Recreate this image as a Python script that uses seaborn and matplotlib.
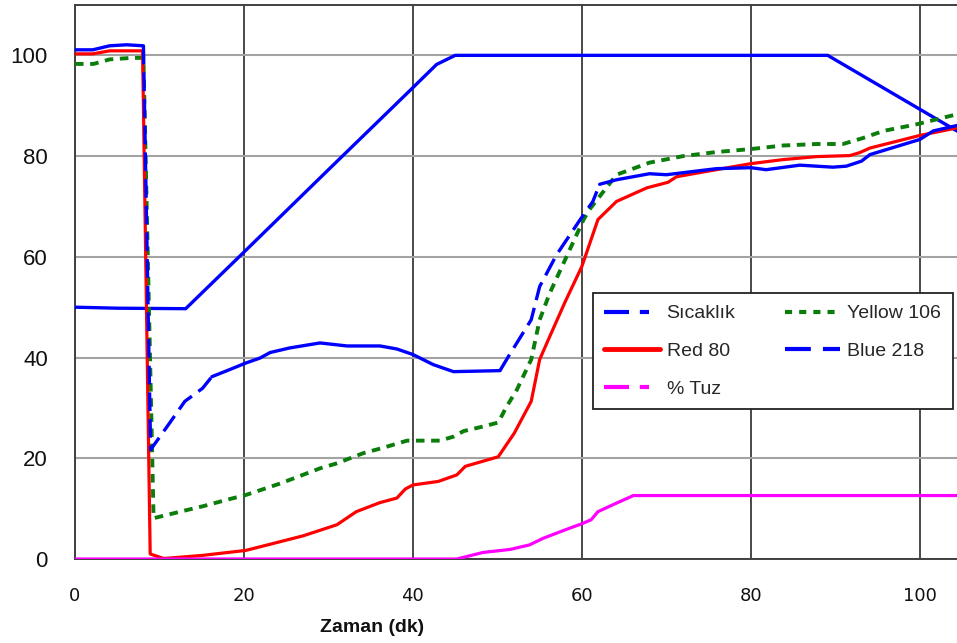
import numpy as np
import pandas as pd
import matplotlib
matplotlib.use("Agg")
import matplotlib.pyplot as plt
import seaborn as sns
from matplotlib.lines import Line2D

# ---------------- data ----------------
sicaklik_x = [0, 5, 13.1, 20.1, 30, 40, 42.8, 45, 89.1, 100, 105]
sicaklik_y = [50, 49.8, 49.7, 61.1, 77.3, 93.6, 98.2, 100, 100, 89.3, 84.4]

yellow106_x = [0, 2.2, 4.1, 6.7, 8.1, 9.3, 13.2, 15.2, 18.3, 20.2, 24.3, 29, 31, 34.1,
               36.5, 39.3, 43.2, 44.8, 46, 48.3, 50.1, 51.1, 52.3, 54, 55, 56.2, 58.2,
               60.2, 60.9, 64.1, 68, 72, 75.9, 80, 83.8, 87.8, 90.9, 93.3, 95.7, 99.6, 104.4]
yellow106_y = [98.3, 98.3, 99.2, 99.5, 99.5, 8.1, 9.7, 10.5, 11.9, 12.7, 15, 18, 19, 21,
               22.1, 23.5, 23.5, 24.3, 25.4, 26.3, 27.1, 30.3, 33.6, 39.6, 47.5, 52.8, 60.1,
               67.4, 69.4, 76.3, 78.7, 80, 80.8, 81.4, 82.1, 82.4, 82.4, 83.6, 85, 86.3, 88.3]

red80_x = [0, 2.1, 4.1, 8.0, 8.9, 10.5, 15, 20.2, 23.5, 27, 31, 33.3, 36.1, 38.1, 39.1,
           40, 43, 45.2, 46.2, 50.1, 52, 54, 55, 56.2, 58, 60, 61.9, 64.1, 67.7, 70.2,
           71.2, 75.9, 80, 83.8, 87.8, 91.7, 92.9, 94.1, 100, 105]
red80_y = [100.3, 100.3, 100.9, 100.9, 1.0, 0.1, 0.7, 1.7, 3.1, 4.6, 6.8, 9.4, 11.2, 12.1, 13.9,
           14.7, 15.4, 16.7, 18.4, 20.3, 25, 31.3, 39.6, 44.2, 51, 58.1, 67.4, 71.0, 73.7, 74.8,
           75.9, 77.3, 78.5, 79.3, 79.9, 80.1, 80.7, 81.6, 84.1, 85.8]

blue218_x = [0, 2.1, 4.1, 6.1, 8.1, 8.95, 11.2, 13, 15.1, 16.2, 18.3, 20.2, 21.9, 23.1, 25.4,
             29, 32.2, 36.1, 38.1, 40, 42.4, 44.8, 50.3, 51.3, 54, 55, 57, 59.8, 61.3, 62.1,
             64.1, 68, 70, 75.9, 80, 81.8, 85.8, 89.7, 91.3, 93.1, 94.1, 100, 101.6, 105]
blue218_y = [101.1, 101.1, 101.9, 102.1, 101.9, 21.7, 27, 31.3, 33.9, 36.2, 37.6, 38.9, 39.9, 41, 41.9,
             42.9, 42.3, 42.3, 41.7, 40.6, 38.6, 37.2, 37.4, 40.2, 47.5, 54.1, 60.4, 67.4, 71, 74.4,
             75.3, 76.5, 76.3, 77.5, 77.7, 77.3, 78.2, 77.8, 78.0, 79, 80.3, 83.3, 85, 86.3]

tuz_x = [0, 45.2, 48.3, 51.5, 53.8, 55.4, 58.2, 60, 61.1, 61.9, 64.1, 66.1, 105]
tuz_y = [0, 0, 1.3, 1.9, 2.8, 4.1, 5.9, 7.0, 7.8, 9.4, 11.1, 12.6, 12.6]

x_ticks = [0, 20, 40, 60, 80, 100]
y_ticks = [0, 20, 40, 60, 80, 100]
x_label = "Zaman (dk)"
labels = ["Sıcaklık", "Yellow 106", "Red 80", "Blue 218", "% Tuz"]

# ---------------- style ----------------
BLUE = "#0000ff"
RED = "#ff0000"
GREEN = "#0a7d0a"
MAGENTA = "#ff00ff"
blue218_dashed_spans = [(8.1, 16.2), (50.3, 62.1)]

sns.set_theme(style="white")
plt.rcParams["font.family"] = ["Liberation Sans", "DejaVu Sans"]

fig = plt.figure(figsize=(9.57, 6.43), dpi=100)
ax = fig.add_axes([75 / 957, 84 / 643, 882 / 957, 554 / 643])

# Sıcaklık
sns.lineplot(x=sicaklik_x, y=sicaklik_y, ax=ax, color=BLUE, lw=2.4,
             sort=False, estimator=None, zorder=3)
# Yellow 106
sns.lineplot(x=yellow106_x, y=yellow106_y, ax=ax, color=GREEN, lw=2.8,
             linestyle=(0, (2.2, 1.7)), sort=False, estimator=None, zorder=4)
# Red 80
sns.lineplot(x=red80_x, y=red80_y, ax=ax, color=RED, lw=2.3,
             sort=False, estimator=None, zorder=5)

# Blue 218: sparse parts dashed, dense parts appear solid
bx = np.asarray(blue218_x)
by = np.asarray(blue218_y)
seg_dashed = [any(lo <= bx[i] and bx[i + 1] <= hi for lo, hi in blue218_dashed_spans)
              for i in range(len(bx) - 1)]
rows = []
run = 0
start = 0
for i in range(1, len(seg_dashed) + 1):
    if i == len(seg_dashed) or seg_dashed[i] != seg_dashed[start]:
        st = "dashed" if seg_dashed[start] else "solid"
        for j in range(start, i + 1):
            rows.append({"t": bx[j], "v": by[j], "run": run, "style": st})
        run += 1
        start = i
b218 = pd.DataFrame(rows)
sns.lineplot(data=b218, x="t", y="v", units="run", style="style",
             dashes={"solid": "", "dashed": (5.6, 2.4)}, estimator=None, sort=False,
             color=BLUE, lw=2.4, legend=False, ax=ax, zorder=6)

# % Tuz
sns.lineplot(x=tuz_x, y=tuz_y, ax=ax, color=MAGENTA, lw=2.3,
             sort=False, estimator=None, zorder=7)

# ---------------- axes ----------------
ax.set_xlim(0, 104.4)
ax.set_ylim(0, 110)
ax.set_xticks(x_ticks)
ax.set_yticks(y_ticks)
ax.set_xticklabels([str(v) for v in x_ticks], fontsize=13, family=["DejaVu Sans"], color="#111111")
ax.set_yticklabels([str(v) for v in y_ticks], fontsize=16, color="#111111")
ax.tick_params(axis="both", direction="out", length=5.5, width=1.2, color="#404040", pad=14)
ax.tick_params(axis="x", pad=15)

ax.set_axisbelow(True)
ax.xaxis.grid(True, color="#3a3a3a", lw=1.3)
ax.yaxis.grid(True, color="#a3a3a3", lw=1.5)
for side in ["left", "top", "bottom"]:
    ax.spines[side].set_visible(True)
    ax.spines[side].set_color("#404040")
    ax.spines[side].set_linewidth(1.4)
ax.spines["right"].set_visible(False)

ax.set_ylabel("")
ax.set_xlabel(x_label, fontsize=14, fontweight="bold", color="#111111")
ax.xaxis.set_label_coords(0.337, -0.1245)
ax.xaxis.label.set_va("center")

# ---------------- legend ----------------
handles = [
    Line2D([], [], color=BLUE, lw=3, dashes=(6, 2.6, 2.2, 5)),
    Line2D([], [], color=RED, lw=3.5),
    Line2D([], [], color=MAGENTA, lw=3, dashes=(6, 2.6, 2.2, 5)),
    Line2D([], [], color=GREEN, lw=3, dashes=(1.7, 1.7)),
    Line2D([], [], color=BLUE, lw=3, dashes=(6.2, 2.9)),
]
leg_labels = [labels[0], labels[2], labels[4], labels[1], labels[3]]
leg = ax.legend(handles, leg_labels, ncol=2, loc="upper left",
                bbox_to_anchor=(0.587, 0.480), borderaxespad=0,
                fontsize=14, handlelength=2.85, handletextpad=0.35,
                columnspacing=2.55, labelspacing=1.03, borderpad=0.6,
                frameon=True, fancybox=False, framealpha=1)
leg.get_frame().set_edgecolor("#222222")
leg.get_frame().set_linewidth(1.3)
leg.set_zorder(20)

fig.savefig("out.png", dpi=100)
